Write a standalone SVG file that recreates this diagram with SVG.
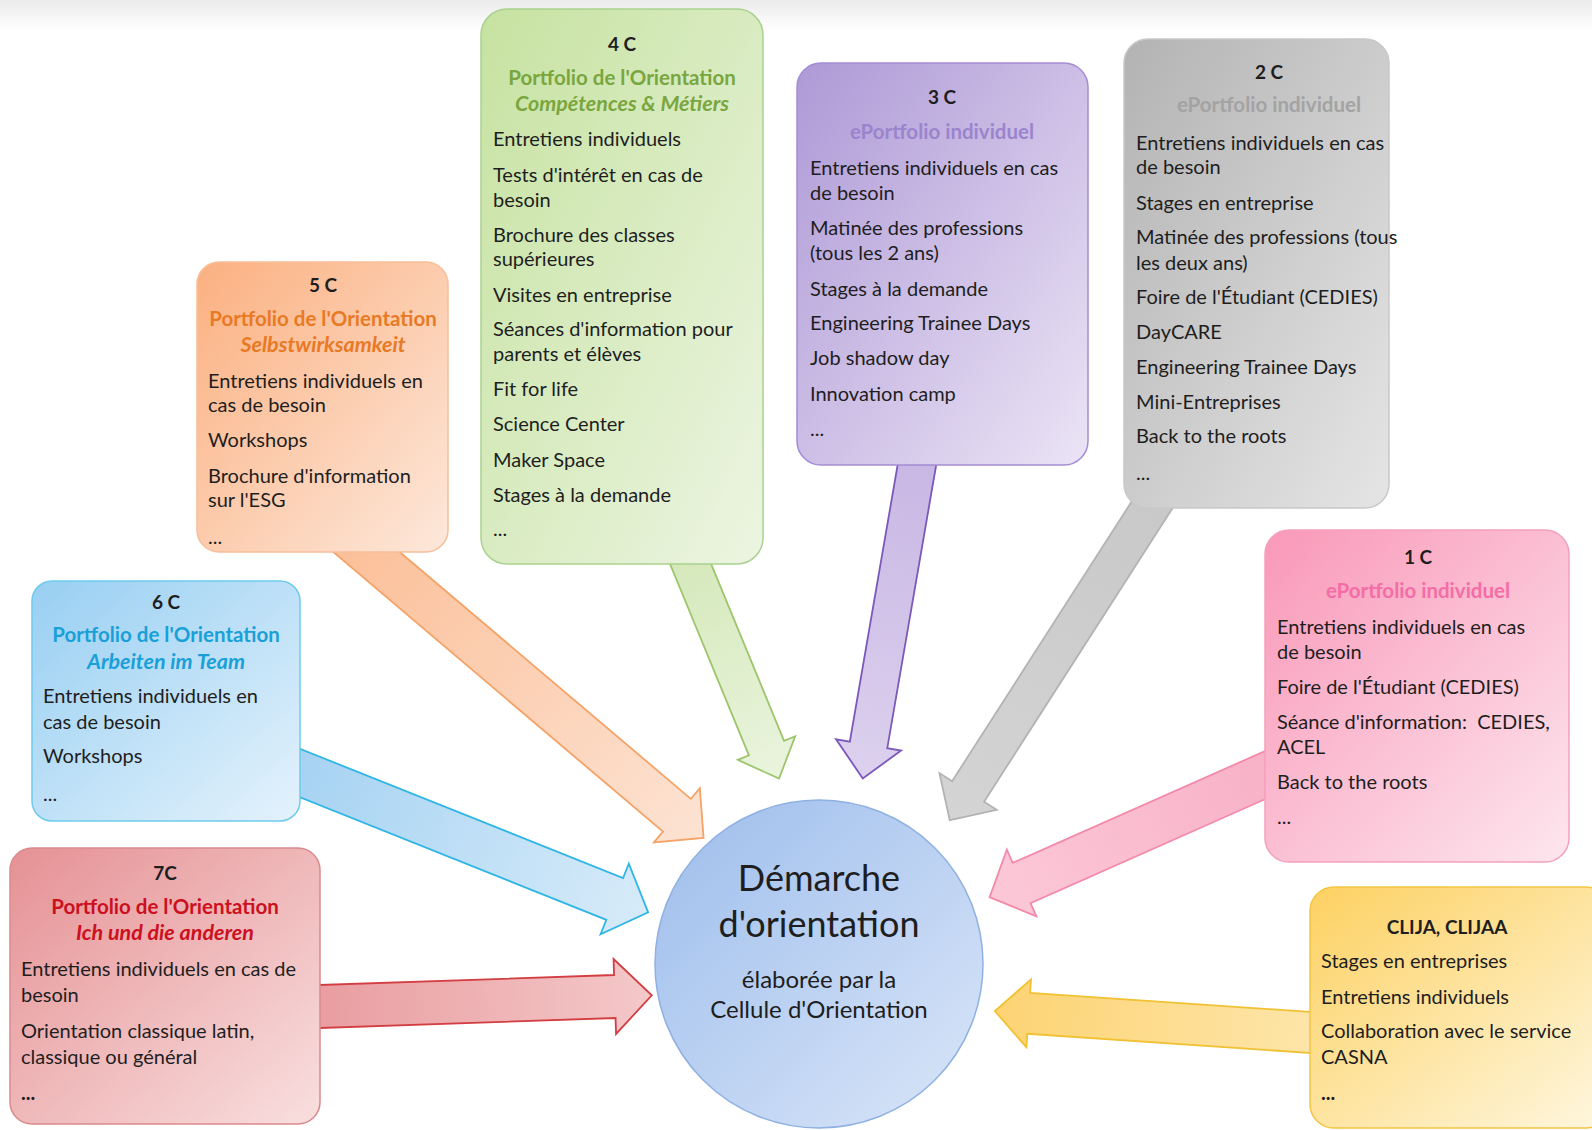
<svg xmlns="http://www.w3.org/2000/svg" width="1592" height="1130" viewBox="0 0 1592 1130">
<defs>
<linearGradient id="gTop" x1="0" y1="0" x2="0" y2="1"><stop offset="0" stop-color="#ebebeb"/><stop offset="1" stop-color="#ffffff"/></linearGradient>
<linearGradient id="gGreen" x1="0" y1="0" x2="1" y2="1"><stop offset="0" stop-color="#c6e2a0"/><stop offset="1" stop-color="#ecf5e2"/></linearGradient>
<linearGradient id="gPurple" x1="0" y1="0" x2="1" y2="1"><stop offset="0" stop-color="#ae99d6"/><stop offset="1" stop-color="#ebe4f5"/></linearGradient>
<linearGradient id="gGray" x1="0" y1="0" x2="1" y2="1"><stop offset="0" stop-color="#b3b3b3"/><stop offset="1" stop-color="#e5e5e5"/></linearGradient>
<linearGradient id="gOrange" x1="0" y1="0" x2="1" y2="1"><stop offset="0" stop-color="#fbb080"/><stop offset="1" stop-color="#fde8db"/></linearGradient>
<linearGradient id="gBlue" x1="0" y1="0" x2="1" y2="1"><stop offset="0" stop-color="#98cff2"/><stop offset="1" stop-color="#e4f2fc"/></linearGradient>
<linearGradient id="gRed" x1="0" y1="0" x2="1" y2="1"><stop offset="0" stop-color="#e59194"/><stop offset="1" stop-color="#f9dfdf"/></linearGradient>
<linearGradient id="gPink" x1="0" y1="0" x2="1" y2="1"><stop offset="0" stop-color="#f998b8"/><stop offset="1" stop-color="#fde6ee"/></linearGradient>
<linearGradient id="gYellow" x1="0" y1="0" x2="1" y2="1"><stop offset="0" stop-color="#fdd162"/><stop offset="1" stop-color="#fef7e0"/></linearGradient>
<linearGradient id="gCircle" x1="0" y1="0" x2="1" y2="1"><stop offset="0" stop-color="#9dbdec"/><stop offset="1" stop-color="#dae6f8"/></linearGradient>
<linearGradient id="aOrange" x1="0" y1="0" x2="1" y2="0"><stop offset="0" stop-color="#fbbf98"/><stop offset="1" stop-color="#fde3d3"/></linearGradient>
<linearGradient id="aGreen" x1="0" y1="0" x2="1" y2="0"><stop offset="0" stop-color="#d3e8b8"/><stop offset="1" stop-color="#eaf4de"/></linearGradient>
<linearGradient id="aPurple" x1="0" y1="0" x2="1" y2="0"><stop offset="0" stop-color="#c7b5e3"/><stop offset="1" stop-color="#dcd1ee"/></linearGradient>
<linearGradient id="aGray" x1="0" y1="0" x2="1" y2="0"><stop offset="0" stop-color="#c8c8c8"/><stop offset="1" stop-color="#d4d4d4"/></linearGradient>
<linearGradient id="aPink" x1="0" y1="0" x2="1" y2="0"><stop offset="0" stop-color="#f8b0c7"/><stop offset="1" stop-color="#fcc8d8"/></linearGradient>
<linearGradient id="aYellow" x1="0" y1="0" x2="1" y2="0"><stop offset="0" stop-color="#fde7ae"/><stop offset="1" stop-color="#fdd373"/></linearGradient>
<linearGradient id="aBlue" x1="0" y1="0" x2="1" y2="0"><stop offset="0" stop-color="#a3d1f2"/><stop offset="1" stop-color="#d7ebf9"/></linearGradient>
<linearGradient id="aRed" x1="0" y1="0" x2="1" y2="0"><stop offset="0" stop-color="#e89a9d"/><stop offset="1" stop-color="#f4c8c9"/></linearGradient>
</defs>
<style>
text{font-family:Lato,"Liberation Sans",sans-serif;fill:#1e1e1e;font-size:20px}
.hd{font-weight:bold;text-anchor:middle;font-size:19px}
.tt{font-weight:bold;text-anchor:middle;font-size:20.5px}
.it{font-style:italic;font-size:21.5px}
.big{font-size:36px;text-anchor:middle}
.mid{font-size:24px;text-anchor:middle}
.box{stroke-width:1.5}
.arr{stroke-width:1.8;stroke-linejoin:miter}
</style>
<rect x="0" y="0" width="1592" height="30" fill="url(#gTop)"/>

<g id="center">
<circle cx="819" cy="964" r="164" fill="url(#gCircle)" stroke="#8fb1e2" stroke-width="1.5"/>
<text class="big" x="819" y="891">Démarche</text>
<text class="big" x="819" y="937">d'orientation</text>
<text class="mid" x="819" y="988">élaborée par la</text>
<text class="mid" x="819" y="1018">Cellule d'Orientation</text>
</g>

<g id="connectors">
<polygon class="arr" transform="translate(343.6,532.6) rotate(40.3)" points="0,-21.5 437,-21.5 437,-35.5 472,0 437,35.5 437,21.5 0,21.5" fill="url(#aOrange)" stroke="#f5a266"/>
<polygon class="arr" transform="translate(679.6,537.3) rotate(67.6)" points="0,-19 228,-19 228,-31 261,0 228,31 228,19 0,19" fill="url(#aGreen)" stroke="#9dc56c"/>
<polygon class="arr" transform="translate(922,435.5) rotate(99.8)" points="0,-19 314,-19 314,-33 348,0 314,33 314,19 0,19" fill="url(#aPurple)" stroke="#7c58ba"/>
<polygon class="arr" transform="translate(1166.9,481.8) rotate(122.7)" points="0,-19 368,-19 368,-34 402,0 368,34 368,19 0,19" fill="url(#aGray)" stroke="#b3b3b3"/>
<polygon class="arr" transform="translate(1290.4,763.9) rotate(156.1)" points="0,-22 294,-22 294,-36.5 329,0 294,36.5 294,22 0,22" fill="url(#aPink)" stroke="#f38aab"/>
<polygon class="arr" transform="translate(1340,1034.5) rotate(183.9)" points="0,-20.5 312,-20.5 312,-34 346,0 312,34 312,20.5 0,20.5" fill="url(#aYellow)" stroke="#f0c233"/>
<polygon class="arr" transform="translate(272.1,761.9) rotate(21.8)" points="0,-22.5 369,-22.5 369,-38 405,0 369,38 369,22.5 0,22.5" fill="url(#aBlue)" stroke="#2fb6e4"/>
<polygon class="arr" transform="translate(290,1007.5) rotate(-1.94)" points="0,-21.5 325,-21.5 325,-37.5 362,0 325,37.5 325,21.5 0,21.5" fill="url(#aRed)" stroke="#d23e42"/>
</g>

<g id="box-4c">
<rect class="box" x="481" y="9" width="282" height="555" rx="26" fill="url(#gGreen)" stroke="#abd190"/>
<text class="hd" x="622" y="51">4 C</text>
<text class="tt" x="622" y="85" style="fill:#7aa640">Portfolio de l'Orientation</text>
<text class="tt it" x="622" y="111" style="fill:#7aa640">Compétences &amp; Métiers</text>
<text x="493" y="146">Entretiens individuels</text>
<text x="493" y="182">Tests d'intérêt en cas de</text>
<text x="493" y="207">besoin</text>
<text x="493" y="242">Brochure des classes</text>
<text x="493" y="266">supérieures</text>
<text x="493" y="302">Visites en entreprise</text>
<text x="493" y="336">Séances d'information pour</text>
<text x="493" y="361">parents et élèves</text>
<text x="493" y="396">Fit for life</text>
<text x="493" y="431">Science Center</text>
<text x="493" y="467">Maker Space</text>
<text x="493" y="502">Stages à la demande</text>
<text x="493" y="536">...</text>
</g>

<g id="box-3c">
<rect class="box" x="797" y="63" width="291" height="402" rx="24" fill="url(#gPurple)" stroke="#a48cd5"/>
<text class="hd" x="942" y="104">3 C</text>
<text class="tt" x="942" y="139" style="fill:#9b84cd">ePortfolio individuel</text>
<text x="810" y="175">Entretiens individuels en cas</text>
<text x="810" y="200">de besoin</text>
<text x="810" y="235">Matinée des professions</text>
<text x="810" y="260">(tous les 2 ans)</text>
<text x="810" y="296">Stages à la demande</text>
<text x="810" y="330">Engineering Trainee Days</text>
<text x="810" y="365">Job shadow day</text>
<text x="810" y="401">Innovation camp</text>
<text x="810" y="436">...</text>
</g>

<g id="box-2c">
<rect class="box" x="1124" y="39" width="265" height="469" rx="24" fill="url(#gGray)" stroke="#c8c8c8"/>
<text class="hd" x="1269" y="79">2 C</text>
<text class="tt" x="1269" y="112" style="fill:#a3a3a3">ePortfolio individuel</text>
<text x="1136" y="150">Entretiens individuels en cas</text>
<text x="1136" y="174">de besoin</text>
<text x="1136" y="210">Stages en entreprise</text>
<text x="1136" y="244">Matinée des professions (tous</text>
<text x="1136" y="270">les deux ans)</text>
<text x="1136" y="304">Foire de l'Étudiant (CEDIES)</text>
<text x="1136" y="339">DayCARE</text>
<text x="1136" y="374">Engineering Trainee Days</text>
<text x="1136" y="409">Mini-Entreprises</text>
<text x="1136" y="443">Back to the roots</text>
<text x="1136" y="480">...</text>
</g>

<g id="box-5c">
<rect class="box" x="197" y="262" width="251" height="290" rx="22" fill="url(#gOrange)" stroke="#f8bf9a"/>
<text class="hd" x="323" y="292">5 C</text>
<text class="tt" x="323" y="326" style="fill:#e87a25">Portfolio de l'Orientation</text>
<text class="tt it" x="323" y="352" style="fill:#e87a25">Selbstwirksamkeit</text>
<text x="208" y="388">Entretiens individuels en</text>
<text x="208" y="412">cas de besoin</text>
<text x="208" y="447">Workshops</text>
<text x="208" y="483">Brochure d'information</text>
<text x="208" y="507">sur l'ESG</text>
<text x="208" y="544">...</text>
</g>

<g id="box-6c">
<rect class="box" x="32" y="581" width="268" height="240" rx="20" fill="url(#gBlue)" stroke="#6dcbed"/>
<text class="hd" x="166" y="609">6 C</text>
<text class="tt" x="166" y="642" style="fill:#1aa0d8">Portfolio de l'Orientation</text>
<text class="tt it" x="166" y="669" style="fill:#1aa0d8">Arbeiten im Team</text>
<text x="43" y="703">Entretiens individuels en</text>
<text x="43" y="729">cas de besoin</text>
<text x="43" y="763">Workshops</text>
<text x="43" y="801">...</text>
</g>

<g id="box-7c">
<rect class="box" x="10" y="848" width="310" height="276" rx="22" fill="url(#gRed)" stroke="#d98a8d"/>
<text class="hd" x="165" y="880">7C</text>
<text class="tt" x="165" y="914" style="fill:#cc1020">Portfolio de l'Orientation</text>
<text class="tt it" x="165" y="940" style="fill:#cc1020">Ich und die anderen</text>
<text x="21" y="976">Entretiens individuels en cas de</text>
<text x="21" y="1002">besoin</text>
<text x="21" y="1038">Orientation classique latin,</text>
<text x="21" y="1064">classique ou général</text>
<text x="21" y="1100" font-weight="bold">...</text>
</g>

<g id="box-1c">
<rect class="box" x="1265" y="530" width="304" height="332" rx="24" fill="url(#gPink)" stroke="#f5a0bd"/>
<text class="hd" x="1418" y="564">1 C</text>
<text class="tt" x="1418" y="598" style="fill:#f46da6">ePortfolio individuel</text>
<text x="1277" y="634">Entretiens individuels en cas</text>
<text x="1277" y="659">de besoin</text>
<text x="1277" y="694">Foire de l'Étudiant (CEDIES)</text>
<text x="1277" y="729">Séance d'information:&#160; CEDIES,</text>
<text x="1277" y="754">ACEL</text>
<text x="1277" y="789">Back to the roots</text>
<text x="1277" y="824">...</text>
</g>

<g id="box-clija">
<rect class="box" x="1310" y="887" width="300" height="241" rx="24" fill="url(#gYellow)" stroke="#f4c544"/>
<text class="hd" x="1447" y="934">CLIJA, CLIJAA</text>
<text x="1321" y="968">Stages en entreprises</text>
<text x="1321" y="1004">Entretiens individuels</text>
<text x="1321" y="1038">Collaboration avec le service</text>
<text x="1321" y="1064">CASNA</text>
<text x="1321" y="1100" font-weight="bold">...</text>
</g>
</svg>
